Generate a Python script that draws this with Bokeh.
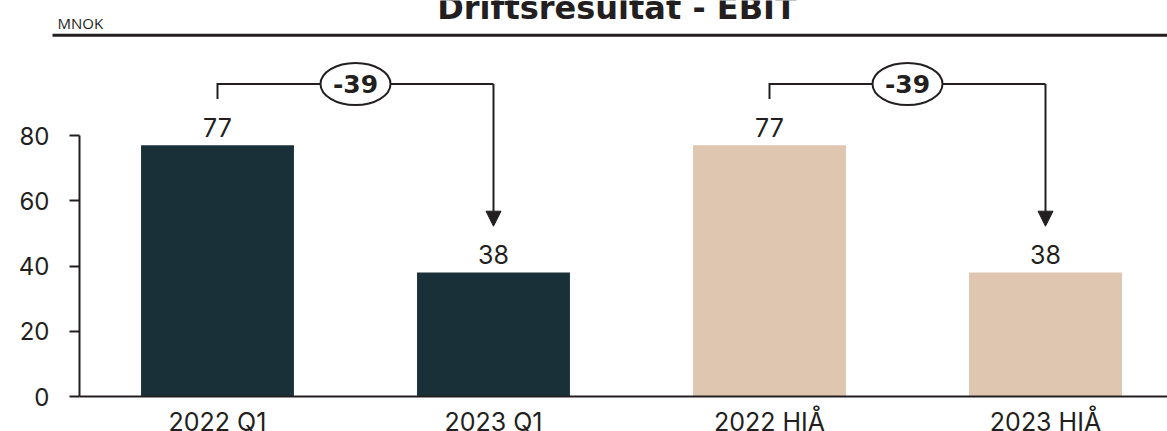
from bokeh.plotting import figure
from bokeh.models import Range1d, FixedTicker, Arrow, NormalHead
from bokeh.core.properties import value
from bokeh.embed import file_html
from bokeh.resources import INLINE

# ---- data ----
title_text = "Driftsresultat - EBIT"
unit_text = "MNOK"
categories = ["2022 Q1", "2023 Q1", "2022 HIÅ", "2023 HIÅ"]
values = [77, 38, 77, 38]
bar_colors = ["#1a3038", "#1a3038", "#dfc6b0", "#dfc6b0"]
y_ticks = [0, 20, 40, 60, 80]
comparisons = [(0, 1), (2, 3)]

# ---- layout constants (canvas pixels) ----
TXT = "#231f20"
FONT = "Inter"
BOLD_FONT = "DejaVu Sans"
W, H = 1167, 431
AX_X = 79          # pixel column of the value axis
AX_Y = 396         # pixel row of the category axis (value 0)
PXU_X = 276.0      # pixels per category
PXU_Y = 3.2625     # pixels per unit of value


def cx(px):  # pixel column -> data x
    return -0.5 + (px - AX_X) / PXU_X


def cy(py):  # pixel row -> data y
    return (AX_Y - py) / PXU_Y


X0, X1 = cx(0), cx(W)
Y0, Y1 = cy(H), cy(0)

p = figure(width=W, height=H, output_backend="svg", toolbar_location=None,
           x_range=Range1d(X0, X1), y_range=Range1d(Y0, Y1),
           min_border_left=0, min_border_right=0, min_border_top=0,
           min_border_bottom=0)
p.outline_line_color = None
p.xgrid.visible = False
p.ygrid.visible = False
p.background_fill_color = "white"
p.border_fill_color = "white"

idx = list(range(len(categories)))
p.vbar(x=idx, top=values, bottom=0, width=0.554, fill_color=bar_colors,
       line_color=None)

LABEL_LIFT = 18 / PXU_Y   # value-label centre sits 18px above the bar
p.text(x=idx, y=[v + LABEL_LIFT for v in values], text=[str(v) for v in values],
       text_align="center", text_baseline="middle",
       text_font=value(FONT), text_font_size="25px", text_color=TXT)

# comparison brackets
TOP = cy(83.5)
GAP = 14.2
for a, b in comparisons:
    p.line(x=[a, a, b], y=[values[a] + GAP, TOP, TOP], line_color=TXT,
           line_width=2, line_join="miter")
    p.add_layout(Arrow(end=NormalHead(size=15, fill_color=TXT, line_color=TXT),
                       x_start=b, y_start=TOP, x_end=b, y_end=values[b] + GAP,
                       line_color=TXT, line_width=2))
    mid = (a + b) / 2
    p.ellipse(x=[mid], y=[TOP], width=70, height=42, width_units="screen",
              height_units="screen", fill_color="white", line_color=TXT,
              line_width=2)
    d = values[b] - values[a]
    p.text(x=[mid], y=[TOP], text=[f"{d:d}"], text_align="center",
           text_baseline="middle", text_font=value(BOLD_FONT),
           text_font_style="bold", text_font_size="25px", text_color=TXT)

# axes (drawn at fixed data locations)
xa = p.xaxis[0]
xa.fixed_location = 0
xa.bounds = (-0.5, X1)
xa.ticker = FixedTicker(ticks=idx)
xa.major_label_overrides = {i: c for i, c in zip(idx, categories)}
xa.major_tick_line_color = None
xa.major_tick_out = 0
xa.major_tick_in = 0
xa.minor_tick_line_color = None
xa.axis_line_color = TXT
xa.axis_line_width = 2
xa.major_label_text_font = FONT
xa.major_label_text_font_size = "25px"
xa.major_label_text_color = TXT
xa.major_label_standoff = 10

ya = p.yaxis[0]
ya.fixed_location = -0.5
ya.ticker = FixedTicker(ticks=y_ticks)
ya.bounds = (0, 80)
ya.major_tick_out = 10
ya.major_tick_in = 0
ya.major_tick_line_color = TXT
ya.major_tick_line_width = 2
ya.minor_tick_line_color = None
ya.axis_line_color = TXT
ya.axis_line_width = 2
ya.major_label_text_font = FONT
ya.major_label_text_font_size = "24px"
ya.major_label_text_color = TXT
ya.major_label_standoff = 20

# header: unit, title and rule
HEAD_Y = cy(34.7)
p.line(x=[cx(52), X1], y=[HEAD_Y, HEAD_Y], line_color=TXT, line_width=3)
p.text(x=[cx(616.5)], y=[cy(7.3)], text=[title_text], text_align="center",
       text_baseline="middle", text_font=value(BOLD_FONT),
       text_font_style="bold", text_font_size="32px", text_color=TXT)
p.text(x=[cx(57)], y=[cy(22.7)], text=[unit_text], text_align="left",
       text_baseline="middle", text_font=value("Open Sans"),
       text_font_size="15px", text_color=TXT)

open("out.html", "w").write(file_html(p, INLINE))
